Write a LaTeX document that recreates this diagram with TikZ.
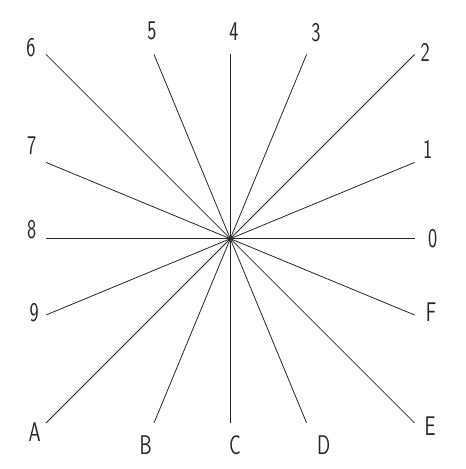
\documentclass[tikz,border=0pt]{standalone}
\begin{document}
\begin{tikzpicture}[x=1pt,y=-1pt,
  lbl/.style={font=\sffamily\fontsize{27}{27}\selectfont, xscale=0.72, inner sep=0pt, text=black!85},
  ray/.style={line width=0.8pt, draw=black!85}]
\useasboundingbox (0,0) rectangle (466,469);
\coordinate (c) at (230.3,238.7);
\foreach \n/\ex/\ey/\lx/\ly in {
  0/414.6/238.7/432.7/238.5,
  1/414.6/162.4/427.7/149,
  2/414.6/54.4/425.3/52.7,
  3/306.6/54.4/316/32.7,
  4/230.3/54.4/234/31.7,
  5/154/54.4/152/31,
  6/46/54.4/31/47.7,
  7/46/162.4/31.7/146,
  8/46/238.7/31.7/230,
  9/46/315/34.3/312.7,
  A/46/423/34.7/431.7,
  B/154/423/145.7/445,
  C/230.3/423/235/445,
  D/306.6/423/323.7/445,
  E/414.6/423/430/426,
  F/414.6/315/431/311.7}{
  \coordinate (e\n) at (\ex,\ey);
  \node[lbl] (l\n) at (\lx,\ly) {\n};
  \draw[ray] (c) -- (e\n);
}
\end{tikzpicture}
\end{document}
